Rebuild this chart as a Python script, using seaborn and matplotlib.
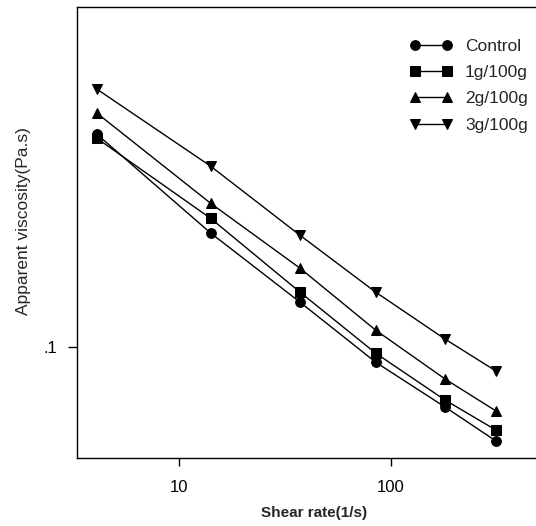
import pandas as pd
import numpy as np
import matplotlib
matplotlib.use("Agg")
import matplotlib.pyplot as plt
import matplotlib.ticker as mticker
import seaborn as sns

# datos
shear_rate = [4.1, 14.1, 37.2, 84.6, 180, 313]
control = [0.341, 0.193, 0.1296, 0.0917, 0.0708, 0.0582]
g1 = [0.333, 0.210, 0.1373, 0.0966, 0.0737, 0.0620]
g2 = [0.385, 0.229, 0.1576, 0.1103, 0.0832, 0.0692]
g3 = [0.442, 0.2836, 0.1905, 0.1373, 0.1047, 0.0871]
series_names = ['Control', '1g/100g', '2g/100g', '3g/100g']

df = pd.DataFrame({
    'Shear': shear_rate * 4,
    'Viscosity': control + g1 + g2 + g3,
    'Muestra': np.repeat(series_names, len(shear_rate)),
})

sns.set_style("white")
plt.rcParams['font.family'] = ['Liberation Sans', 'DejaVu Sans']

fig = plt.figure(figsize=(5.36, 5.26), dpi=100)
ax = fig.add_axes([0.1437, 0.1293, 0.8563, 0.857])

sns.lineplot(
    data=df, x='Shear', y='Viscosity', hue='Muestra', style='Muestra',
    markers=['o', 's', '^', 'v'], dashes=False,
    palette=['black'] * 4, markersize=7, linewidth=1,
    markeredgecolor='black', ax=ax, legend=True,
)

ax.set_xscale('log')
ax.set_yscale('log')
ax.set_xlim(3.31, 483)
ax.set_ylim(0.0528, 0.708)

ax.xaxis.set_major_locator(mticker.FixedLocator([10, 100]))
ax.xaxis.set_major_formatter(mticker.FixedFormatter(['10', '100']))
ax.xaxis.set_minor_locator(mticker.NullLocator())
ax.yaxis.set_major_locator(mticker.FixedLocator([0.1]))
ax.yaxis.set_major_formatter(mticker.FixedFormatter(['.1']))
ax.yaxis.set_minor_locator(mticker.NullLocator())
ax.tick_params(axis='x', direction='out', length=5.5, width=1, pad=10,
               colors='black', labelsize=12, bottom=True)
ax.tick_params(axis='y', direction='out', length=6.5, width=1, pad=8,
               colors='black', labelsize=12, left=True)

for side in ['left', 'bottom', 'top']:
    ax.spines[side].set_color('black')
    ax.spines[side].set_linewidth(1)
ax.spines['right'].set_visible(False)

ax.set_xlabel('Shear rate(1/s)', fontsize=11, fontweight='bold')
ax.set_ylabel('Apparent viscosity(Pa.s)', fontsize=12.5)
ax.xaxis.set_label_coords(0.517, -0.106)
ax.yaxis.set_label_coords(-0.100, 0.525)

handles, labels = ax.get_legend_handles_labels()
ax.legend(handles, labels, loc='upper left', bbox_to_anchor=(0.725, 0.930),
          frameon=False, numpoints=2, handlelength=2.44, fontsize=12.5,
          labelspacing=0.64, handletextpad=0.74, borderpad=0, borderaxespad=0)

fig.savefig('out.png', dpi=100)
